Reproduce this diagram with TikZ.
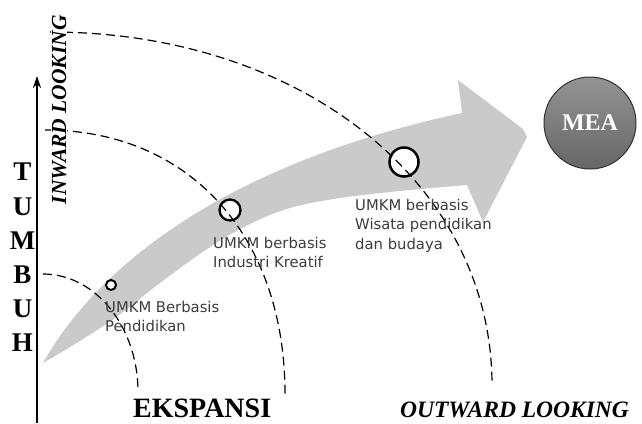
\documentclass[tikz,border=0pt]{standalone}
\usepackage{fontspec}
\setmainfont{Liberation Serif}
\newfontfamily\labelfont{DejaVu Sans}
\usetikzlibrary{arrows.meta}
\definecolor{flowgray}{RGB}{202,202,202}
\definecolor{labelgray}{RGB}{60,60,60}
\definecolor{meatop}{RGB}{148,148,148}
\definecolor{meabottom}{RGB}{102,102,102}
\definecolor{mearim}{RGB}{50,50,50}

\begin{document}
\begin{tikzpicture}[x=1pt,y=-1pt,
  flow/.style={fill=flowgray},
  stage/.style={circle,draw=black,fill=white,inner sep=0pt},
  zone/.style={line width=1.2pt,dash pattern=on 9pt off 5pt},
  stagelabel/.style={anchor=north west,align=left,inner sep=0pt,text=labelgray,
    font=\labelfont\fontsize{14.8}{19.5}\selectfont},
  axisword/.style={inner sep=0pt,font=\bfseries\fontsize{28}{29}\selectfont},
  lookword/.style={inner sep=0pt,font=\bfseries\itshape\fontsize{23.5}{24}\selectfont},
  axisline/.style={line width=1.1pt,-{Stealth[length=12pt,width=8pt]}},
  goal/.style={circle,draw=mearim,line width=1pt,top color=meatop,bottom color=meabottom,
    minimum size=92pt,inner sep=0pt,text=white,font=\bfseries\fontsize{24}{24}\selectfont}]

\useasboundingbox (0,0) rectangle (642,423);

% broad curved growth arrow
\fill[flow] (43,363) .. controls (95,270) and (220,165) .. (462,113)
  -- (458,80) -- (523,129) -- (527,137) -- (483,222) -- (467,185)
  -- plot[smooth,tension=0.6] coordinates
    {(467,185) (400,191) (340,198) (290,208) (250,224) (210,247) (160,283) (115,318) (75,344) (43,363)}
  -- cycle;

% stage markers
\node[stage,minimum size=10pt,line width=2pt] (s1) at (111,285) {};
\node[stage,minimum size=21pt,line width=2.3pt] (s2) at (230,210) {};
\node[stage,minimum size=29pt,line width=2.5pt] (s3) at (404,162) {};

% dashed expansion zones
\coordinate (z1a) at (43,274);  \coordinate (z1b) at (138,392);
\coordinate (z2a) at (45,130);  \coordinate (z2b) at (285,394);
\coordinate (z3a) at (50,32);   \coordinate (z3b) at (492,385);
\draw[zone] (z1a) .. controls (95.5,274) and (138,326.8) .. (z1b);
\draw[zone] (z2a) .. controls (189,130) and (285,235.6) .. (z2b);
\draw[zone] (z3a) .. controls (302,32) and (492,184) .. (z3b);

% vertical axis
\coordinate (axisfoot) at (37,423);
\coordinate (axishead) at (37,76);
\draw[axisline] (axisfoot) -- (axishead);

\node[align=center,inner sep=0pt,font=\bfseries\fontsize{27}{34.2}\selectfont]
  (tumbuh) at (22.5,257.5) {T\\U\\M\\B\\U\\H};
\node[lookword,font=\bfseries\itshape\fontsize{21.5}{22}\selectfont,rotate=90,
  anchor=base west,fill=white,inner sep=0.5pt] (inward) at (66,205) {INWARD LOOKING};
\node[axisword,anchor=base west] (ekspansi) at (133,417) {EKSPANSI};
\node[lookword,anchor=base west] (outward) at (400,417) {OUTWARD LOOKING};

% stage labels
\node[stagelabel] (l1) at (105,301) {UMKM Berbasis\\Pendidikan};
\node[stagelabel] (l2) at (213,237) {UMKM berbasis\\Industri Kreatif};
\node[stagelabel] (l3) at (355,199) {UMKM berbasis\\Wisata pendidikan\\dan budaya};

% target
\node[goal] (mea) at (590,123) {MEA};
\end{tikzpicture}
\end{document}
